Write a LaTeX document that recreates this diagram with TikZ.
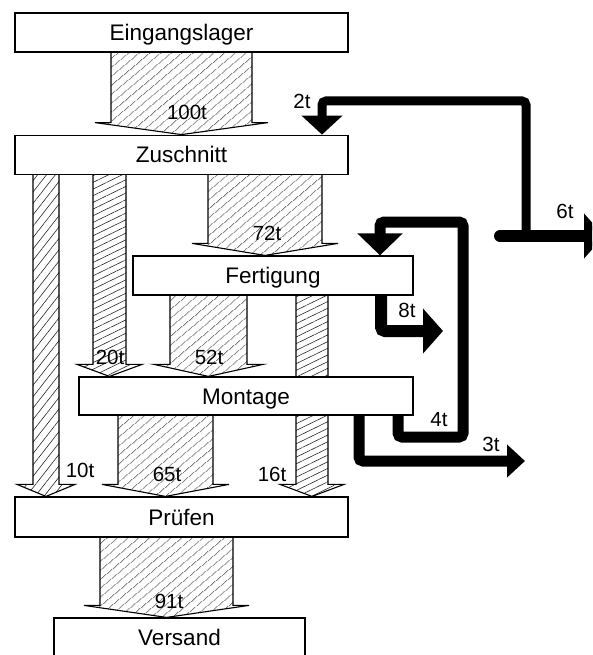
\documentclass[tikz,border=0pt]{standalone}
\usepackage{fontspec}
\setmainfont{Liberation Sans}
\usetikzlibrary{arrows.meta, positioning, calc, backgrounds, patterns.meta}
\tikzset{
  stage/.style={rectangle, draw, line width=1.2pt, fill=white, inner sep=0pt, minimum height=39pt, text height=16pt, text depth=0pt, font=\fontsize{22.5}{26}\selectfont},
  qty/.style={inner sep=0pt, text height=15pt, text depth=0pt, font=\fontsize{20.5}{24}\selectfont},
  hatch/.style={draw=black, line width=1.1pt, pattern={Lines[angle=40, distance=6.5pt, line width=0.6pt]}, pattern color=black!85},
  hatchflat/.style={hatch, pattern={Lines[angle=26, distance=6pt, line width=0.6pt]}},
  hatchsteep/.style={hatch, pattern={Lines[angle=52, distance=7pt, line width=0.6pt]}},
  loss/.style={line width=11pt, rounded corners=4pt},
}
\newcommand{\band}[5]{%
  \draw[#1] let \p1=(#4.south), \p2=(#5.north) in
    (#2,\y1) -- (#2,\y2+12pt) -- (#2-16,\y2+12pt) -- ({(#2+#3)/2},\y2)
    -- (#3+16,\y2+12pt) -- (#3,\y2+12pt) -- (#3,\y1);}

\begin{document}
\begin{tikzpicture}[x=1pt, y=-1pt]
\useasboundingbox (0,0) rectangle (592,655);
\clip (0,0) rectangle (592,655);
\node[stage, minimum width=333pt] (eing) at (181.5,32.5) {Eingangslager};
\node[stage, minimum width=333pt, below=82pt of eing] (zus) {Zuschnitt};
\node[stage, minimum width=280pt] (fert) at (273,275.5) {Fertigung};
\node[stage, minimum width=334pt, minimum height=38pt] (mont) at (246,396) {Montage};
\node[stage, minimum width=333pt, minimum height=40pt] (pruef) at (181.5,517) {Prüfen};
\node[stage, minimum width=251pt] (vers) at (179.5,637.5) {Versand};

\begin{scope}[on background layer]
\band{hatch}{111}{252}{eing}{zus}
\band{hatch}{208}{322}{zus}{fert}
\band{hatch}{170}{247}{fert}{mont}
\band{hatchflat}{93}{126}{zus}{mont}
\band{hatchsteep}{33}{59}{zus}{pruef}
\band{hatch}{118}{213}{mont}{pruef}
\band{hatchflat}{296}{328}{fert}{pruef}
\band{hatch}{100}{233}{pruef}{vers}
\end{scope}

\coordinate (j6) at (500,236);
\coordinate (out6) at (604,236);
\coordinate (in2) at (322,0 |- zus.north);
\coordinate (m4) at (398,0 |- mont.south);
\coordinate (in4) at (380,0 |- fert.north);
\coordinate (f8) at (381,0 |- fert.south);
\coordinate (out8) at (443,331);
\coordinate (m3) at (359,0 |- mont.south);
\coordinate (out3) at (525,461);
\draw[loss, line width=12pt, line cap=round, -{Triangle[length=20pt, width=44pt]}] (j6) -- (out6);
\draw[loss, line width=9pt, -{Triangle[length=19pt, width=40pt]}] (526,236) |- (322,101) -- (in2);
\draw[loss, -{Triangle[length=22pt, width=44pt]}] (m4) -- (398,437) -- (463,437) -- (463,222) -- (380,222) -- (in4);
\draw[loss, line width=12pt, -{Triangle[length=20pt, width=44pt]}] (f8) |- (out8);
\draw[loss, -{Triangle[length=18pt, width=32pt]}] (m3) |- (out3);

\node[qty] (q100) at (187,112) {100t};
\node[qty] (q72) at (267,233) {72t};
\node[qty] (q52) at (209,357) {52t};
\node[qty] (q20) at (110,357) {20t};
\node[qty] (q10) at (80,470) {10t};
\node[qty] (q65) at (167,474) {65t};
\node[qty] (q16) at (272,474) {16t};
\node[qty] (q91) at (169,601) {91t};
\node[qty] (q2) at (302,101) {2t};
\node[qty] (q6) at (565,211) {6t};
\node[qty] (q8) at (407,310) {8t};
\node[qty] (q4) at (439,419) {4t};
\node[qty] (q3) at (491,444) {3t};
\end{tikzpicture}
\end{document}
